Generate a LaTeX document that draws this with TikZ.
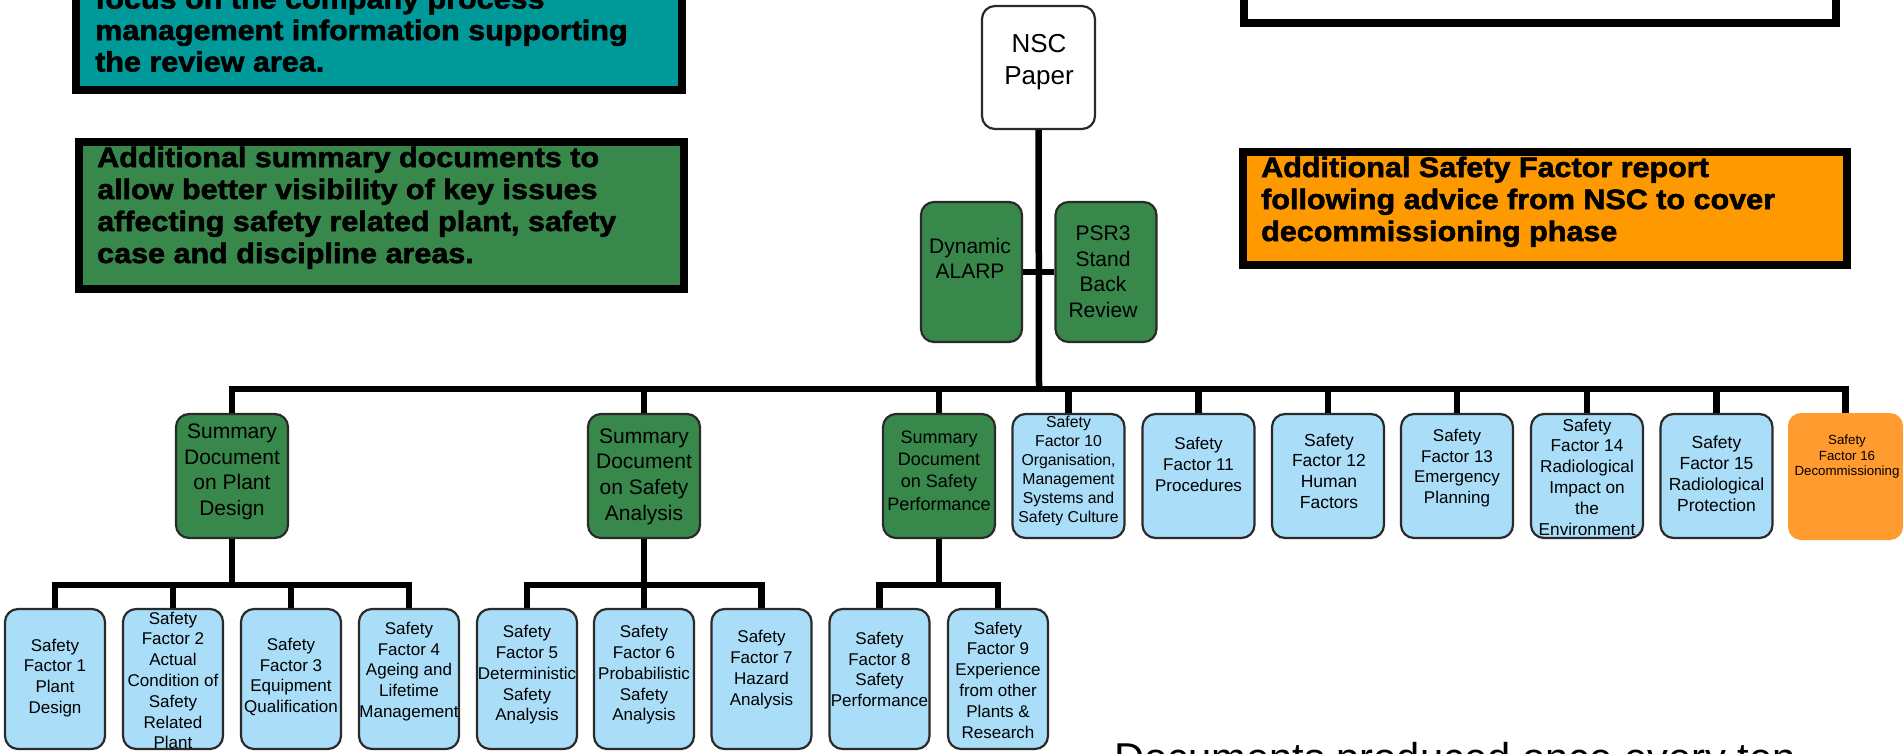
\documentclass[tikz,border=0pt]{standalone}
\usepackage{fontspec}
\setmainfont{Liberation Sans}
\newfontfamily\capfont[FakeStretch=1.09,FakeBold=2]{Liberation Sans Bold}
\usetikzlibrary{calc}
\definecolor{lblue}{HTML}{AADDF7}
\definecolor{dgreen}{HTML}{37884A}
\definecolor{tealc}{HTML}{009999}
\definecolor{orng}{HTML}{FF9900}
\definecolor{orngb}{HTML}{FF9B2F}
\definecolor{bord}{HTML}{2A2A2A}
\begin{document}
\begin{tikzpicture}[x=1pt,y=-1pt,
  conn/.style={line width=6.5pt, draw=black},
  boxframe/.style={line width=8pt, draw=black},
  captxt/.style={font=\capfont\fontsize{28}{32}\selectfont, anchor=base west, inner sep=0pt},
  rbox/.style={draw=bord, line width=2.2pt, rounded corners=13pt, inner sep=0pt},
  rone/.style={rbox, minimum width=112pt, minimum height=124pt},
  rtwo/.style={rbox, minimum width=100pt, minimum height=140pt},
  bluefill/.style={fill=lblue},
  greenfill/.style={fill=dgreen},
  tx/.style={align=center, inner sep=0pt, text=black},
  fa/.style={font=\fontsize{17}{20.8}\selectfont},
]
\useasboundingbox (0,0) rectangle (1903,753);
\clip (0,0) rectangle (1903,753);

% caption frames
\path[boxframe, fill=tealc] (76,-50) rectangle (682,90);
\path[boxframe, fill=dgreen] (79,142) rectangle (684,289);
\path[boxframe, fill=white] (1244,-50) rectangle (1836,23);
\path[boxframe, fill=orng] (1243,152) rectangle (1847,265);

\node[captxt] (ta) at (95,8.5) {focus on the company process};
\node[captxt] (tb) at (95,40) {management information supporting};
\node[captxt] (tc) at (95,71.5) {the review area.};
\node[captxt] (ga) at (97,167) {Additional summary documents to};
\node[captxt] (gb) at (97,199) {allow better visibility of key issues};
\node[captxt] (gc) at (97,231) {affecting safety related plant, safety};
\node[captxt] (gd) at (97,263) {case and discipline areas.};
\node[captxt] (oa) at (1261,177) {Additional Safety Factor report};
\node[captxt] (ob) at (1261,209) {following advice from NSC to cover};
\node[captxt] (oc) at (1261,241) {decommissioning phase};

% top nodes
\node[rbox, fill=white, minimum width=113pt, minimum height=123pt] (nsc) at (1038.5,67.5) {};
\node[tx, font=\fontsize{26}{32}\selectfont] (nsct) at (1039,62) {NSC\\Paper};
\node[rbox, greenfill, minimum width=101pt, minimum height=140pt] (dyn) at (971.5,272) {};
\node[tx, font=\fontsize{21}{25}\selectfont] (dynt) at (970,258) {Dynamic\\ALARP};
\node[rbox, greenfill, minimum width=101pt, minimum height=140pt] (psr) at (1106,272) {};
\node[tx, font=\fontsize{21}{25.5}\selectfont] (psrt) at (1103,272) {PSR3\\Stand\\Back\\Review};

% row 1
\node[rone, greenfill] (spd) at (232,476) {};
\node[rone, greenfill] (ssa) at (644,476) {};
\node[rone, greenfill] (ssp) at (939,476) {};
\node[rone, bluefill] (sften) at (1068.5,476) {};
\node[rone, bluefill] (sfeleven) at (1198.5,476) {};
\node[rone, bluefill] (sftwelve) at (1328,476) {};
\node[rone, bluefill] (sfthirteen) at (1457,476) {};
\node[rone, bluefill] (sffourteen) at (1587,476) {};
\node[rone, bluefill] (sffifteen) at (1716.5,476) {};
\node[draw=none, fill=orngb, rounded corners=13pt, minimum width=115pt, minimum height=127pt, inner sep=0pt] (sfsixteen) at (1845.5,476.5) {};

\node[tx, font=\fontsize{21}{25.5}\selectfont] (spdt) at (232,472) {Summary\\Document\\on Plant\\Design};
\node[tx, font=\fontsize{21}{25.7}\selectfont] (ssat) at (644,476.5) {Summary\\Document\\on Safety\\Analysis};
\node[tx, font=\fontsize{18}{22.4}\selectfont] (sspt) at (939,470.5) {Summary\\Document\\on Safety\\Performance};
\node[tx, font=\fontsize{15.8}{19}\selectfont] (sftent) at (1068.5,470.5) {Safety\\Factor 10\\Organisation,\\Management\\Systems and\\Safety Culture};
\node[tx, font=\fontsize{17}{21.3}\selectfont] (sfelevent) at (1198.5,464.5) {Safety\\Factor 11\\Procedures};
\node[tx, font=\fontsize{17.5}{20.7}\selectfont] (sftwelvet) at (1329,471) {Safety\\Factor 12\\Human\\Factors};
\node[tx, font=\fontsize{17}{20.7}\selectfont] (sfthirteent) at (1457,468) {Safety\\Factor 13\\Emergency\\Planning};
\node[tx, font=\fontsize{17.2}{20.8}\selectfont] (sffourteent) at (1587,477) {Safety\\Factor 14\\Radiological\\Impact on\\the\\Environment};
\node[tx, font=\fontsize{17.5}{21}\selectfont] (sffifteent) at (1716.5,473.5) {Safety\\Factor 15\\Radiological\\Protection};
\node[tx, font=\fontsize{13.3}{15.5}\selectfont] (sfsixteent) at (1847,457) {Safety\\Factor 16\\Decommissioning};

% row 2
\node[rtwo, bluefill] (sfone) at (55,679) {};
\node[rtwo, bluefill] (sftwo) at (173,679) {};
\node[rtwo, bluefill] (sfthree) at (291,679) {};
\node[rtwo, bluefill] (sffour) at (409,679) {};
\node[rtwo, bluefill] (sffive) at (527,679) {};
\node[rtwo, bluefill] (sfsix) at (644,679) {};
\node[rtwo, bluefill] (sfseven) at (761.5,679) {};
\node[rtwo, bluefill] (sfeight) at (879.5,679) {};
\node[rtwo, bluefill] (sfnine) at (998,679) {};

\node[tx, fa] (sfonet) at (55,678) {Safety\\Factor 1\\Plant\\Design};
\node[tx, fa] (sftwot) at (173,680.5) {Safety\\Factor 2\\Actual\\Condition of\\Safety\\Related\\Plant};
\node[tx, fa] (sfthreet) at (291,677) {Safety\\Factor 3\\Equipment\\Qualification};
\node[tx, fa] (sffourt) at (409,671.5) {Safety\\Factor 4\\Ageing and\\Lifetime\\Management};
\node[tx, fa] (sffivet) at (527,675) {Safety\\Factor 5\\Deterministic\\Safety\\Analysis};
\node[tx, fa] (sfsixt) at (644,675) {Safety\\Factor 6\\Probabilistic\\Safety\\Analysis};
\node[tx, fa] (sfsevent) at (761.5,669.5) {Safety\\Factor 7\\Hazard\\Analysis};
\node[tx, fa] (sfeightt) at (879.5,669.5) {Safety\\Factor 8\\Safety\\Performance};
\node[tx, fa] (sfninet) at (998,680) {Safety\\Factor 9\\Experience\\from other\\Plants \&\\Research};

% connectors
\coordinate (bus) at (1039,389);
\coordinate (sby) at (0,585);
\draw[conn] (nsc.south) -- (bus);
\draw[conn] (dyn.east) -- (psr.west);
\draw[conn] (spd.north) |- (sfsixteen.north |- bus) -- (sfsixteen.north);
\foreach \n in {ssa,ssp,sften,sfeleven,sftwelve,sfthirteen,sffourteen,sffifteen}
  \draw[conn] (\n.north) -- (\n.north |- bus);
\draw[conn] (spd.south) -- (spd.south |- sby);
\draw[conn] (sfone.north) |- (sffour.north |- sby) -- (sffour.north);
\draw[conn] (sftwo.north) -- (sftwo.north |- sby);
\draw[conn] (sfthree.north) -- (sfthree.north |- sby);
\draw[conn] (ssa.south) -- (ssa.south |- sby);
\draw[conn] (sffive.north) |- (sfseven.north |- sby) -- (sfseven.north);
\draw[conn] (sfsix.north) -- (sfsix.north |- sby);
\draw[conn] (ssp.south) -- (ssp.south |- sby);
\draw[conn] (sfeight.north) |- (sfnine.north |- sby) -- (sfnine.north);

\node[anchor=base west, inner sep=0pt, font=\fontsize{41.7}{50}\selectfont] (docs) at (1114,772) {Documents produced once every ten};
\end{tikzpicture}
\end{document}
